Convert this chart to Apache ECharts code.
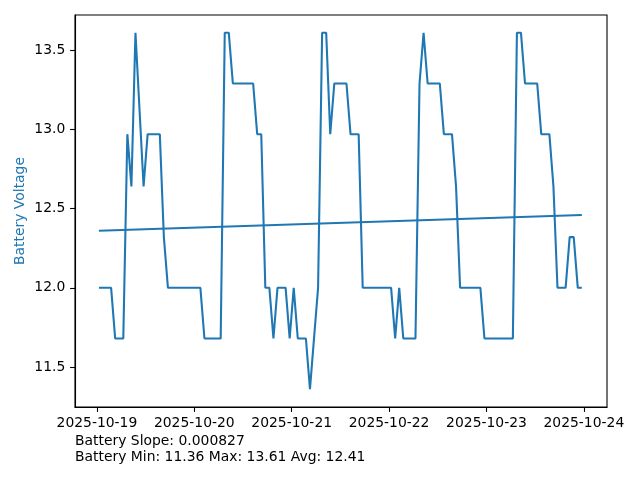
<!DOCTYPE html>
<html>
<head>
<meta charset="utf-8">
<script src="https://cdn.jsdelivr.net/npm/echarts@6/dist/echarts.min.js"></script>
<style>html,body{margin:0;padding:0;background:#fff}#c{width:640px;height:480px}</style>
</head>
<body>
<div id="c"></div>
<script>
// Hours since 2025-10-19 00:00
const hours = [0.5,3.5,4.5,6.5,7.5,8.5,9.5,11.5,12.5,15.5,16.5,17.5,25.5,26.5,30.5,31.5,32.5,33.5,38.5,39.5,40.5,41.5,42.5,43.5,44.5,46.5,47.5,48.5,49.5,51.5,52.5,54.5,55.5,56.5,57.5,58.5,61.5,62.5,64.5,65.5,72.5,73.5,74.5,75.5,78.5,79.5,80.5,81.5,84.5,85.5,87.5,88.5,89.5,94.5,95.5,102.5,103.5,104.5,105.5,108.5,109.5,111.5,112.5,113.5,115.5,116.5,117.5,118.5,119.5];
const voltage = [12.0,12.0,11.68,11.68,12.97,12.64,13.61,12.64,12.97,12.97,12.32,12.0,12.0,11.68,11.68,13.61,13.61,13.29,13.29,12.97,12.97,12.0,12.0,11.68,12.0,12.0,11.68,12.0,11.68,11.68,11.36,12.0,13.61,13.61,12.97,13.29,13.29,12.97,12.97,12.0,12.0,11.68,12.0,11.68,11.68,13.29,13.61,13.29,13.29,12.97,12.97,12.64,12.0,12.0,11.68,11.68,13.61,13.61,13.29,13.29,12.97,12.97,12.64,12.0,12.0,12.32,12.32,12.0,12.0];
const trendValues = [12.36, 12.46];
const dateTicks = [0, 24, 48, 72, 96, 120];
const dateLabels = ['2025-10-19','2025-10-20','2025-10-21','2025-10-22','2025-10-23','2025-10-24'];
const yTicks = [11.5, 12.0, 12.5, 13.0, 13.5];
const statLines = ['Battery Slope: 0.000827', 'Battery Min: 11.36 Max: 13.61 Avg: 12.41'];

const lineData = hours.map((h, i) => [h, voltage[i]]);
const trendData = [[hours[0], trendValues[0]], [hours[hours.length - 1], trendValues[1]]];
const FONT = '"DejaVu Sans", sans-serif';
const BLUE = '#1f77b4';

const chart = echarts.init(document.getElementById('c'), null, {renderer: 'canvas'});
chart.setOption({
  animation: false,
  backgroundColor: '#fff',
  grid: {left: 75, top: 15, width: 532, height: 392, show: true, borderColor: '#000', borderWidth: 1.1, backgroundColor: 'transparent', containLabel: false, outerBoundsMode: 'none'},
  xAxis: {
    type: 'value', min: -5.4, max: 125.7,
    axisLine: {show: true, onZero: false, lineStyle: {color: '#000', width: 1.1}},
    axisTick: {show: true, length: 4.9, lineStyle: {color: '#000', width: 1.1}, customValues: dateTicks},
    axisLabel: {show: true, margin: 9.7, color: '#000', fontSize: 13.9, fontFamily: FONT,
      customValues: dateTicks,
      formatter: v => dateLabels[dateTicks.indexOf(Math.round(v))] || ''},
    splitLine: {show: false}
  },
  yAxis: {
    type: 'value', min: 11.2475, max: 13.7225,
    name: 'Battery Voltage', nameLocation: 'middle', nameGap: 48, nameMoveOverlap: false,
    nameTextStyle: {color: BLUE, fontSize: 13.9, fontFamily: FONT},
    axisLine: {show: true, onZero: false, lineStyle: {color: '#000', width: 1.1}},
    axisTick: {show: true, length: 4.9, lineStyle: {color: '#000', width: 1.1}, customValues: yTicks},
    axisLabel: {show: true, margin: 9.7, color: '#000', fontSize: 13.9, fontFamily: FONT,
      customValues: yTicks, formatter: v => v.toFixed(1)},
    splitLine: {show: false}
  },
  series: [
    {type: 'line', data: lineData, showSymbol: false, symbol: 'none', lineStyle: {color: BLUE, width: 2.08}, itemStyle: {color: BLUE}, z: 3},
    {type: 'line', data: trendData, showSymbol: false, symbol: 'none', lineStyle: {color: BLUE, width: 2.08}, itemStyle: {color: BLUE}, z: 3}
  ],
  graphic: statLines.map((t, i) => ({
    type: 'text', x: 75, y: 441 + i * 16.3,
    style: {text: t, fill: '#000', font: '13.9px ' + FONT, align: 'left', verticalAlign: 'middle'}
  }))
});
</script>
</body>
</html>
